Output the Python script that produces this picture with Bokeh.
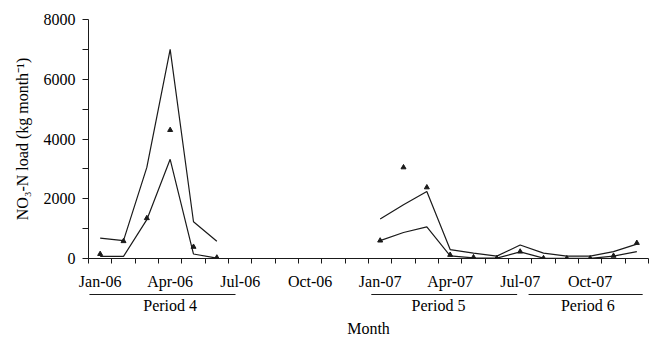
from bokeh.plotting import figure
from bokeh.layouts import column
from bokeh.models import Range1d, FixedTicker
from bokeh.core.properties import value
from bokeh.embed import file_html
from bokeh.resources import INLINE

nan = float("nan")

months = ["Jan-06", "Feb-06", "Mar-06", "Apr-06", "May-06", "Jun-06",
          "Jul-06", "Aug-06", "Sep-06", "Oct-06", "Nov-06", "Dec-06",
          "Jan-07", "Feb-07", "Mar-07", "Apr-07", "May-07", "Jun-07",
          "Jul-07", "Aug-07", "Sep-07", "Oct-07", "Nov-07", "Dec-07"]

observed = [150, 580, 1350, 4300, 390, 30,
            nan, nan, nan, nan, nan, nan,
            600, 3050, 2380, 120, 40, 10,
            230, 10, 5, 5, 90, 520]
upper = [680, 600, 3050, 7000, 1230, 580,
         nan, nan, nan, nan, nan, nan,
         1320, 1800, 2240, 300, 180, 80,
         450, 180, 80, 80, 230, 480]
lower = [70, 70, 1300, 3320, 150, 10,
         nan, nan, nan, nan, nan, nan,
         600, 870, 1060, 90, 20, 10,
         220, 15, 5, 5, 80, 230]

y_ticks = [0, 2000, 4000, 6000, 8000]
y_minor = [1000, 3000, 5000, 7000]

periods = ["Period 4", "Period 5", "Period 6"]
period_start = [0.04, 12.12, 18.86]
period_end = [6.3, 18.37, 23.75]
period_label_x = [3.5, 15.0, 21.4]

FONT = "Liberation Serif"
INK = "#1a1a1a"

x_centers = [i + 0.5 for i in range(len(months))]

p = figure(width=649, height=293, output_backend="svg", toolbar_location=None,
           x_range=Range1d(0, len(months)), y_range=Range1d(0, 8000),
           min_border_left=88, min_border_right=1, min_border_top=19,
           min_border_bottom=35)
p.outline_line_color = None
p.grid.visible = False
p.background_fill_color = "white"
p.border_fill_color = "white"

p.line(x_centers, upper, line_color=INK, line_width=1.2)
p.line(x_centers, lower, line_color=INK, line_width=1.2)
p.scatter(x_centers, observed, marker="triangle", size=5,
          fill_color=INK, line_color=INK)

# x axis: month boundaries as minor ticks, labels every three months
label_pos = x_centers[::3]
xa = p.xaxis[0]
xa.ticker = FixedTicker(ticks=label_pos, minor_ticks=list(range(len(months) + 1)))
xa.major_label_overrides = {x: months[i * 3] for i, x in enumerate(label_pos)}
xa.major_tick_out = 0
xa.major_tick_in = 0
xa.minor_tick_out = 5
xa.minor_tick_in = 0
xa.major_label_standoff = 9
xa.axis_line_color = INK
xa.minor_tick_line_color = INK
xa.major_label_text_font = FONT
xa.major_label_text_font_size = "16px"
xa.major_label_text_color = "black"

ya = p.yaxis[0]
ya.ticker = FixedTicker(ticks=y_ticks, minor_ticks=y_minor)
ya.major_tick_out = 6
ya.major_tick_in = 0
ya.minor_tick_out = 6
ya.minor_tick_in = 0
ya.major_label_standoff = 7
ya.axis_line_color = INK
ya.major_tick_line_color = INK
ya.minor_tick_line_color = INK
ya.major_label_text_font = FONT
ya.major_label_text_font_size = "16px"
ya.major_label_text_color = "black"
ya.axis_label = "NO\u2083-N load (kg month\u207b\u00b9)"
ya.axis_label_text_font = FONT
ya.axis_label_text_font_size = "16px"
ya.axis_label_text_font_style = "normal"
ya.axis_label_text_color = "black"
ya.axis_label_standoff = 10

# bottom strip: period underlines, period names and axis title
q = figure(width=649, height=45, output_backend="svg", toolbar_location=None,
           x_range=p.x_range, y_range=Range1d(0, 45),
           min_border_left=88, min_border_right=1, min_border_top=0,
           min_border_bottom=0)
q.outline_line_color = None
q.grid.visible = False
q.axis.visible = False
q.segment(x0=period_start, y0=[44.0] * 3, x1=period_end, y1=[44.0] * 3,
          line_color=INK, line_width=1.2)
q.text(x=period_label_x, y=[33] * 3, text=periods, text_font=value(FONT),
       text_font_size="16px", text_align="center", text_baseline="middle",
       text_color="black")
q.text(x=[len(months) / 2], y=[10], text=["Month"], text_font=value(FONT),
       text_font_size="16px", text_align="center", text_baseline="middle",
       text_color="black")

layout = column(p, q, spacing=0)
open("out.html", "w").write(file_html(layout, INLINE))
